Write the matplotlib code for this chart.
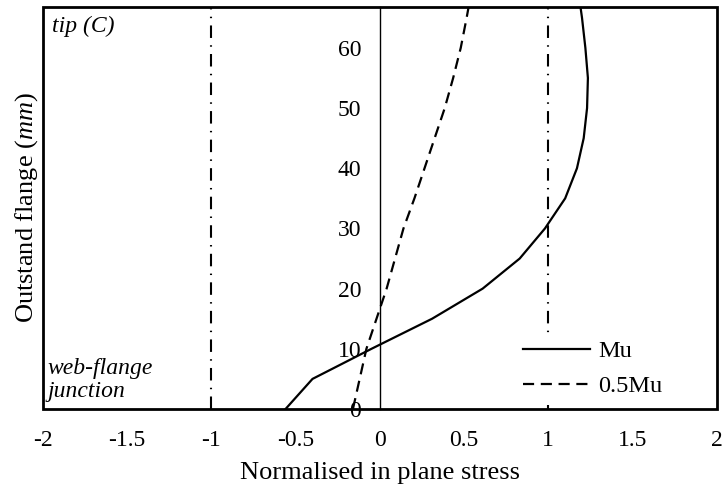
import matplotlib
matplotlib.use('Agg')
import matplotlib.pyplot as plt

plt.rcParams['font.family'] = 'Liberation Serif'
plt.rcParams['font.size'] = 17
plt.rcParams['axes.unicode_minus'] = False
plt.rcParams['mathtext.fontset'] = 'custom'
plt.rcParams['mathtext.rm'] = 'Liberation Serif'
plt.rcParams['mathtext.it'] = 'Liberation Serif:italic'

# position along the outstand flange [mm]
depth = [0, 5, 10, 15, 20, 25, 30, 35, 40, 45, 50, 55, 60, 65, 67]
# normalised in-plane stress
stress_mu = [-0.56, -0.40, -0.05, 0.31, 0.61, 0.83, 0.98, 1.10, 1.17,
             1.21, 1.23, 1.235, 1.22, 1.20, 1.19]
stress_half_mu = [-0.16, -0.12, -0.08, -0.02, 0.04, 0.09, 0.14, 0.205, 0.265,
                  0.325, 0.385, 0.435, 0.48, 0.515, 0.528]
# yield limits
limits = [-1, 1]

xticks = [-2, -1.5, -1, -0.5, 0, 0.5, 1, 1.5, 2]
xticklabels = ['-2', '-1.5', '-1', '-0.5', '0', '0.5', '1', '1.5', '2']
yticks = [0, 10, 20, 30, 40, 50, 60]

fig = plt.figure(figsize=(7.24, 4.93), dpi=100)
ax = fig.add_axes([0.0594, 0.1704, 0.9306, 0.8154])

for lim in limits:
    ax.axvline(lim, color='black', lw=1.5, linestyle=(0, (6, 3.5, 0.7, 3.5)), zorder=1)

ax.plot(stress_mu, depth, color='black', lw=1.6, label='Mu', zorder=3)
ax.plot(stress_half_mu, depth, color='black', lw=1.6, linestyle=(0, (5, 3)),
        label='0.5Mu', zorder=3)

ax.set_xlim(-2, 2)
ax.set_ylim(0, 66.8)
ax.set_xticks(xticks)
ax.set_xticklabels(xticklabels)
ax.set_yticks(yticks)
ax.tick_params(length=0)
ax.tick_params(axis='x', pad=15)
ax.tick_params(axis='y', pad=13.5)

# y axis crosses at zero, frame drawn by the axes patch
for s in ['top', 'right', 'bottom']:
    ax.spines[s].set_visible(False)
ax.spines['left'].set_position(('data', 0))
ax.spines['left'].set_linewidth(1.0)
ax.patch.set_edgecolor('black')
ax.patch.set_linewidth(2.0)

ax.set_xlabel('Normalised in plane stress', fontsize=19, labelpad=8)
ax.set_ylabel(r'Outstand flange ($\mathit{mm}$)', fontsize=19)
ax.yaxis.set_label_coords(-0.004, 0.5, transform=ax.transAxes)

ax.text(0.013, 0.978, 'tip (C)', style='italic', fontsize=17,
        transform=ax.transAxes, ha='left', va='top')
ax.text(0.006, 0.018, 'web-flange\njunction', style='italic', fontsize=17,
        transform=ax.transAxes, ha='left', va='bottom', linespacing=1.1)

leg = ax.legend(loc='center left', bbox_to_anchor=(0.702, 0.1), fontsize=17.5,
                frameon=True, framealpha=1, facecolor='white', edgecolor='none',
                fancybox=False, handlelength=2.75, handletextpad=0.33,
                labelspacing=0.55, borderaxespad=0, borderpad=0.3)
leg.set_zorder(5)

fig.savefig('out.png', dpi=100)
